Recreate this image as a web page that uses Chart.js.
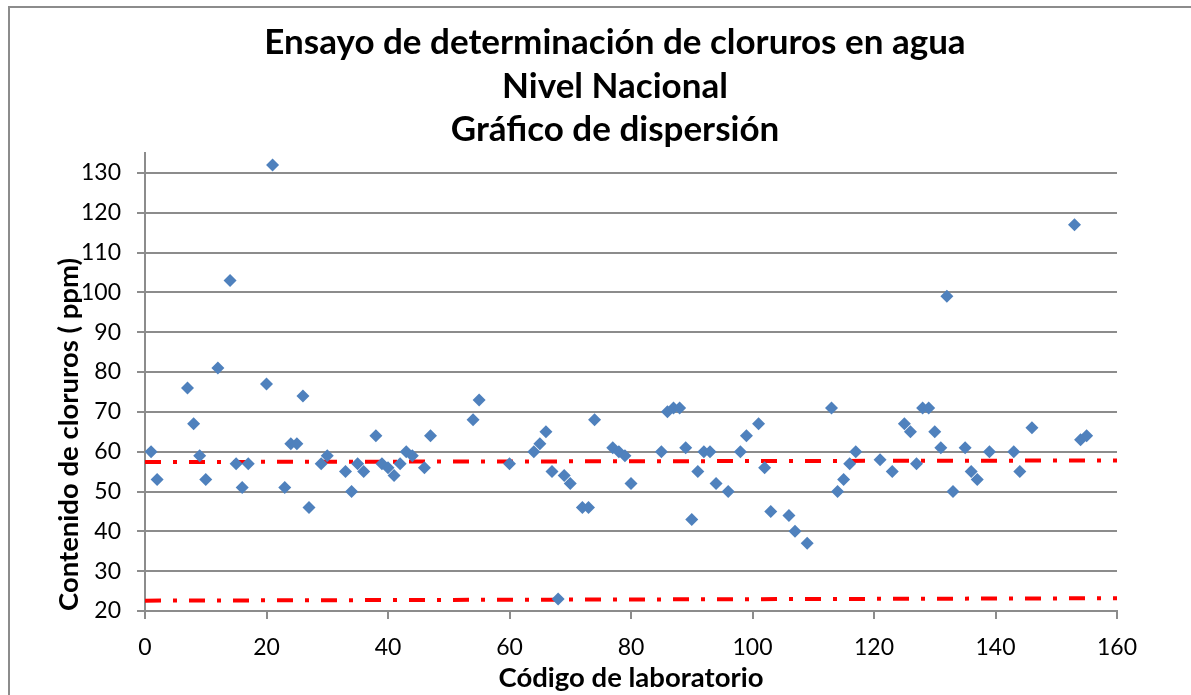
<!DOCTYPE html>
<html>
<head>
<meta charset="utf-8">
<script src="https://cdn.jsdelivr.net/npm/chart.js@4/dist/chart.umd.min.js"></script>
<style>
  html, body { margin: 0; padding: 0; background: #fff; overflow: hidden; }
  #marco { position: absolute; left: 8px; top: 6px; width: 1300px; height: 800px; border: 2px solid #8c8c8c; }
  #grafica { position: absolute; left: 0; top: 0; }
</style>
</head>
<body>
<div id="marco"></div>
<canvas id="grafica" width="1191" height="695"></canvas>
<script>
// Código de laboratorio y contenido de cloruros (ppm)
const codigos = [1, 2, 7, 8, 9, 10, 12, 14, 15, 16, 17, 20, 21, 23, 24, 25, 26, 27, 29, 30,
  33, 34, 35, 36, 38, 39, 40, 41, 42, 43, 44, 46, 47, 54, 55, 60, 64, 65, 66, 67,
  68, 69, 70, 72, 73, 74, 77, 78, 79, 80, 85, 86, 87, 88, 89, 90, 91, 92, 93, 94,
  96, 98, 99, 101, 102, 103, 106, 107, 109, 113, 114, 115, 116, 117, 121, 123, 125, 126, 127, 128,
  129, 130, 131, 132, 133, 135, 136, 137, 139, 143, 144, 146, 153, 154, 155];
const cloruros = [60, 53, 76, 67, 59, 53, 81, 103, 57, 51, 57, 77, 132, 51, 62, 62, 74, 46, 57, 59,
  55, 50, 57, 55, 64, 57, 56, 54, 57, 60, 59, 56, 64, 68, 73, 57, 60, 62, 65, 55,
  23, 54, 52, 46, 46, 68, 61, 60, 59, 52, 60, 70, 71, 71, 61, 43, 55, 60, 60, 52,
  50, 60, 64, 67, 56, 45, 44, 40, 37, 71, 50, 53, 57, 60, 58, 55, 67, 65, 57, 71,
  71, 65, 61, 99, 50, 61, 55, 53, 60, 60, 55, 66, 117, 63, 64];

// Líneas de límite (inicio y fin)
const limiteX = [0, 160];
const limiteSuperior = [57.4, 57.8];
const limiteInferior = [22.6, 23.2];

const tituloLineas = ["Ensayo de determinación de cloruros en agua", "Nivel Nacional", "Gráfico de dispersión"];

const puntos = codigos.map((c, i) => ({ x: c, y: cloruros[i] }));
const lineaSup = limiteX.map((x, i) => ({ x: x, y: limiteSuperior[i] }));
const lineaInf = limiteX.map((x, i) => ({ x: x, y: limiteInferior[i] }));

const gris = '#8c8c8c';
const fuente = 'Lato, "Open Sans", sans-serif';

// titulo centrado sobre la zona del grafico (como en Excel)
const tituloCentrado = {
    id: 'tituloCentrado',
    afterDraw(chart) {
        const c = chart.ctx;
        c.save();
        c.font = 'bold 35px ' + fuente;
        c.fillStyle = '#000';
        c.textAlign = 'center';
        c.textBaseline = 'alphabetic';
        tituloLineas.forEach((linea, i) => c.fillText(linea, 615, 54 + i * 43.7));
        c.restore();
    }
};

const ctx = document.getElementById("grafica").getContext("2d");

new Chart(ctx, {
    type: 'scatter',
    data: {
        datasets: [
            {
                label: 'Cloruros',
                data: puntos,
                pointStyle: 'rectRot',
                pointRadius: 6.5,
                pointHoverRadius: 6.5,
                backgroundColor: '#4f81bd',
                borderColor: '#4f81bd',
                borderWidth: 0,
                order: 0
            },
            {
                type: 'line',
                label: 'Límite superior',
                data: lineaSup,
                borderColor: '#ff0000',
                borderWidth: 4,
                borderDash: [16, 12, 4, 12],
                pointRadius: 0,
                fill: false,
                order: 1
            },
            {
                type: 'line',
                label: 'Límite inferior',
                data: lineaInf,
                borderColor: '#ff0000',
                borderWidth: 4,
                borderDash: [16, 12, 4, 12],
                pointRadius: 0,
                fill: false,
                order: 1
            }
        ]
    },
    options: {
        responsive: false,
        animation: false,
        layout: { padding: { left: 0, right: 74, top: 153, bottom: 0 } },
        plugins: {
            legend: { display: false },
            tooltip: { enabled: false },
            title: { display: false }
        },
        scales: {
            x: {
                type: 'linear',
                min: 0,
                max: 160,
                ticks: { stepSize: 20, color: '#000', font: { family: fuente, size: 23 }, padding: 15 },
                grid: { drawOnChartArea: false, drawTicks: true, tickLength: 8, color: gris, lineWidth: 2 },
                border: { color: gris, width: 2 },
                title: {
                    display: true,
                    text: 'Código de laboratorio',
                    color: '#000',
                    font: { family: fuente, size: 27.5, weight: 'bold' },
                    padding: { top: 0, bottom: 0 }
                },
                afterFit: scale => { scale.height = 84; }
            },
            y: {
                min: 20,
                max: 135,
                ticks: { stepSize: 10, includeBounds: false, color: '#000', font: { family: fuente, size: 23 }, padding: 16 },
                grid: { color: gris, lineWidth: 2, tickLength: 8 },
                border: { color: gris, width: 2 },
                title: {
                    display: true,
                    text: 'Contenido de cloruros ( ppm)',
                    align: 'start',
                    color: '#000',
                    font: { family: fuente, size: 27.5, weight: 'bold' },
                    padding: { top: 53, bottom: 0 }
                },
                afterFit: scale => { scale.width = 145; }
            }
        }
    },
    plugins: [tituloCentrado]
});
</script>
</body>
</html>
